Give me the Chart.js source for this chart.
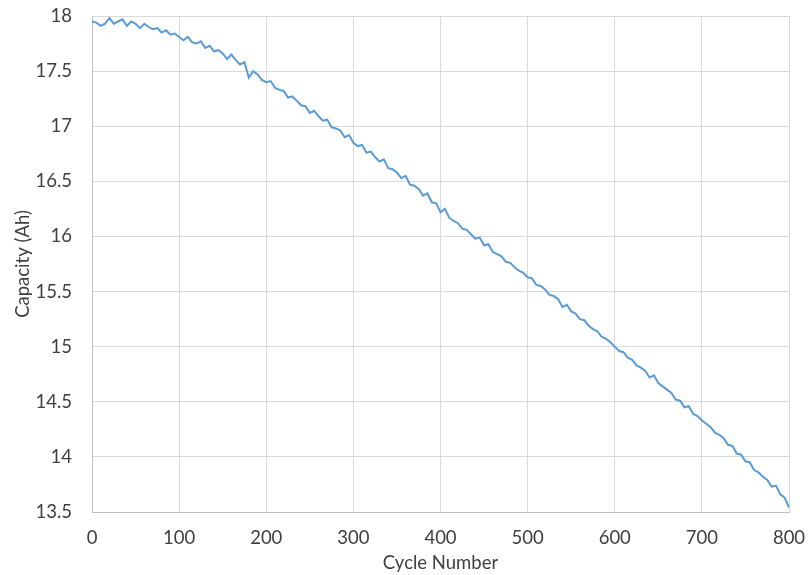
<!DOCTYPE html>
<html>
<head>
<meta charset="utf-8">
<script src="https://cdn.jsdelivr.net/npm/chart.js@4/dist/chart.umd.min.js"></script>
<style>
html,body{margin:0;padding:0;background:#fff;}
#wrap{width:810px;height:575px;position:relative;}
</style>
</head>
<body>
<div id="wrap"><canvas id="c" width="810" height="575"></canvas></div>
<script>
// Cycle numbers (every 5 cycles) and capacity
const cycleStep = 5;
const capacity = [
17.95,17.94,17.91,17.93,17.98,17.93,17.95,17.97,17.91,17.95,
17.93,17.89,17.93,17.90,17.88,17.89,17.85,17.87,17.83,17.84,
17.81,17.78,17.81,17.76,17.75,17.77,17.71,17.73,17.68,17.69,
17.66,17.61,17.65,17.60,17.56,17.58,17.44,17.50,17.47,17.42,
17.40,17.41,17.35,17.33,17.32,17.26,17.27,17.23,17.19,17.18,
17.12,17.14,17.09,17.05,17.06,16.99,16.98,16.96,16.90,16.92,
16.85,16.82,16.83,16.76,16.77,16.72,16.68,16.70,16.62,16.61,
16.58,16.53,16.55,16.47,16.46,16.43,16.37,16.39,16.31,16.30,
16.22,16.25,16.17,16.14,16.12,16.07,16.06,16.02,15.98,15.99,
15.92,15.93,15.86,15.84,15.82,15.77,15.76,15.72,15.69,15.67,
15.63,15.62,15.56,15.55,15.52,15.47,15.46,15.43,15.36,15.38,
15.32,15.30,15.25,15.24,15.19,15.16,15.14,15.09,15.07,15.04,
15.00,14.96,14.95,14.90,14.88,14.83,14.81,14.78,14.72,14.74,
14.67,14.64,14.61,14.58,14.52,14.51,14.45,14.46,14.39,14.37,
14.33,14.30,14.27,14.22,14.20,14.17,14.11,14.10,14.03,14.02,
13.96,13.95,13.88,13.86,13.82,13.79,13.73,13.74,13.66,13.63,
13.54
];
const cycles = capacity.map((_, i) => i * cycleStep);
const xTicks = [0,100,200,300,400,500,600,700,800];
const yTicks = [13.5,14,14.5,15,15.5,16,16.5,17,17.5,18];
const xTitle = 'Cycle Number';
const yTitle = 'Capacity (Ah)';

const points = cycles.map((c, i) => ({x: c, y: capacity[i]}));
const font = {family: 'Lato, "Open Sans", sans-serif', size: 18.5};
const textColor = '#404040';

new Chart(document.getElementById('c'), {
  type: 'line',
  data: {datasets: [{
    data: points,
    borderColor: '#5B9BD5',
    borderWidth: 2,
    pointRadius: 0,
    tension: 0,
    fill: false
  }]},
  options: {
    responsive: false,
    animation: false,
    devicePixelRatio: 1,
    layout: {padding: {left: 0, right: 21, top: 16, bottom: 0}},
    plugins: {legend: {display: false}, tooltip: {enabled: false}},
    scales: {
      x: {
        type: 'linear',
        min: xTicks[0], max: xTicks[xTicks.length-1],
        afterBuildTicks: s => { s.ticks = xTicks.map(v => ({value: v})); },
        afterFit: s => { s.height = 63; },
        ticks: {color: textColor, font: font, padding: 0, maxRotation: 0,
                callback: v => String(v)},
        grid: {color: '#d9d9d9', lineWidth: 1, drawTicks: true, tickLength: 15, tickColor: 'rgba(0,0,0,0)'},
        border: {color: '#bfbfbf', width: 1},
        title: {display: true, text: xTitle, color: textColor, font: font, padding: {top: 0, bottom: 1}}
      },
      y: {
        type: 'linear',
        min: yTicks[0], max: yTicks[yTicks.length-1],
        afterBuildTicks: s => { s.ticks = yTicks.map(v => ({value: v})); },
        afterFit: s => { s.width = 92; },
        ticks: {color: textColor, font: font, padding: 0,
                callback: v => String(Number(v.toFixed(1)))},
        grid: {color: '#d9d9d9', lineWidth: 1, drawTicks: true, tickLength: 20, tickColor: 'rgba(0,0,0,0)'},
        border: {color: '#bfbfbf', width: 1},
        title: {display: true, text: yTitle, color: textColor, font: font, padding: {top: 12, bottom: 0}}
      }
    }
  }
});
</script>
</body>
</html>
